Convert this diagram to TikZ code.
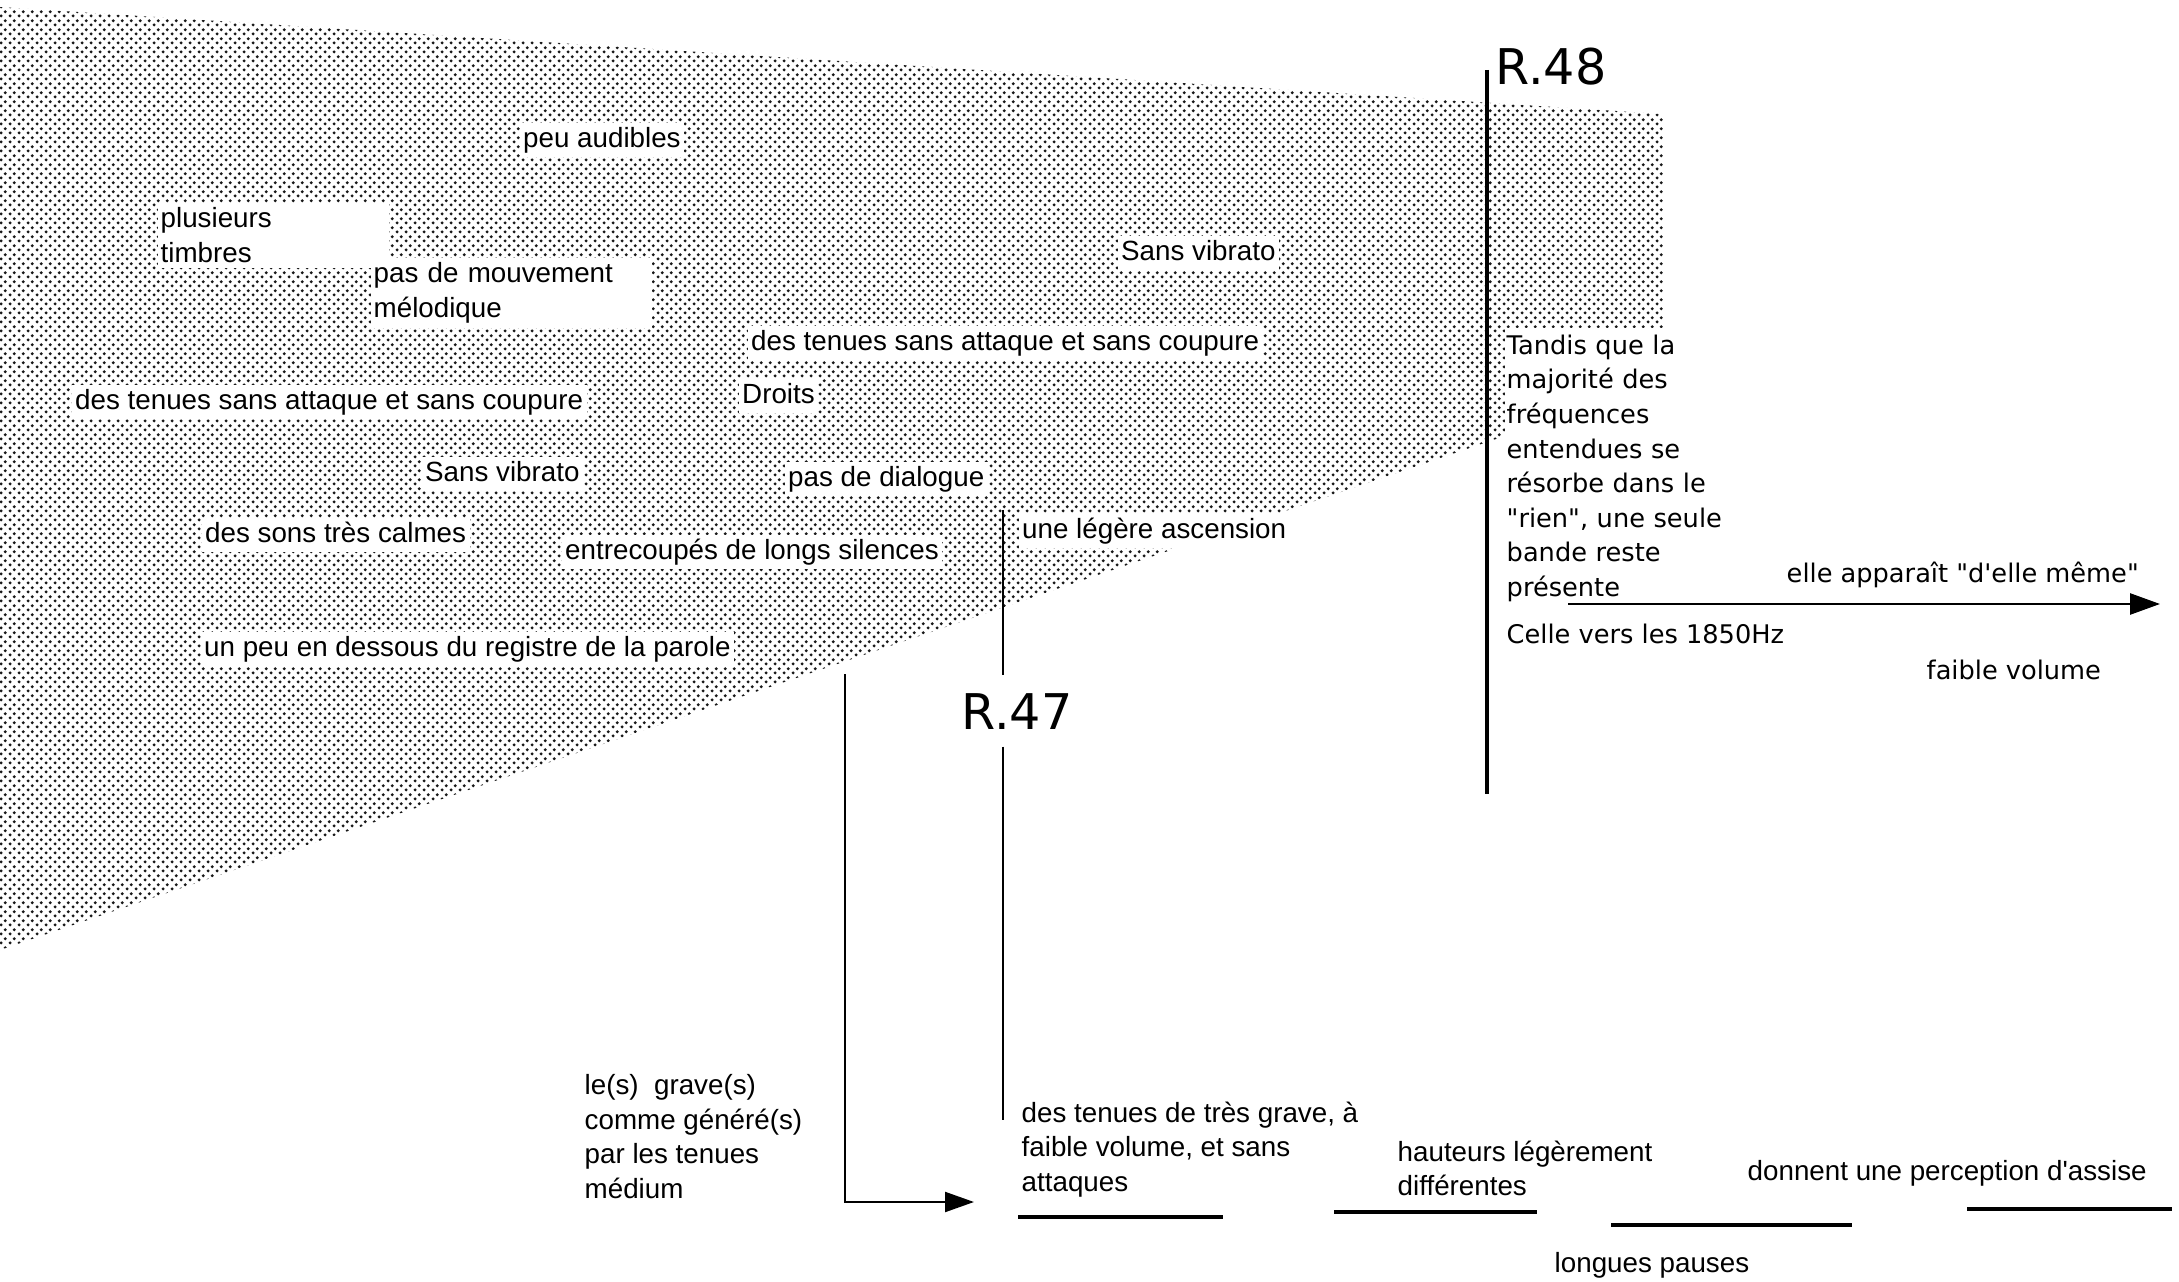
\documentclass[tikz,border=0pt]{standalone}
\usepackage{fontspec}
\setmainfont{Liberation Sans}
\newfontfamily\genevafont{DejaVu Sans}
\usetikzlibrary{patterns,arrows.meta}
\pgfdeclarepatternformonly{stipple}{\pgfpointorigin}{\pgfqpoint{2.6pt}{2.6pt}}{\pgfqpoint{2.6pt}{2.6pt}}{%
  \pgfpathcircle{\pgfqpoint{0.65pt}{0.65pt}}{0.5pt}%
  \pgfpathcircle{\pgfqpoint{1.95pt}{1.95pt}}{0.5pt}%
  \pgfusepath{fill}}

\begin{document}
\begin{tikzpicture}[
    lbl/.style={fill=white, inner sep=1pt, anchor=west, text height=5.9pt, text depth=1.7pt, font=\fontsize{7.9}{9.8}\selectfont},
    boxlbl/.style={fill=white, inner xsep=0.03cm, inner ysep=0.05cm, anchor=north west, align=left, font=\fontsize{7.9}{9.8}\selectfont},
    note/.style={inner sep=0pt, anchor=north west, align=left, font=\fontsize{7.9}{9.8}\selectfont},
    gnote/.style={inner sep=0pt, anchor=base west, font=\genevafont\fontsize{7.3}{9.85}\selectfont},
    rlabel/.style={inner xsep=0pt, inner ysep=0.17cm, anchor=base west, font=\genevafont\fontsize{14}{16}\selectfont},
    leader/.style={line width=0.6pt},
    bar/.style={line width=1.4pt},
    arr/.style={-{Triangle[length=0.29cm,width=0.2cm]}}
  ]
			%%%%% START %%%%%
			\useasboundingbox (0,0) rectangle (21.79,-12.82);
			
			% the band
			\fill[pattern=stipple, pattern color=black!90] (0,-0.07) -- (16.63,-1.14) -- (16.63,-3.82) -- (0,-9.50) -- cycle;
			
			\node[lbl] (audibles) at (5.19,-1.40) {peu audibles};
			\node[boxlbl, text width=2.25cm] (timbres) at (1.57,-2.02) {plusieurs\\timbres};
			\node[boxlbl, text width=2.75cm] (melodique) at (3.70,-2.57) {pas de mouvement\\mélodique};
			\node[lbl] (vibratoB) at (11.17,-2.53) {Sans vibrato};
			\node[lbl] (tenuesB) at (7.47,-3.43) {des tenues sans attaque et sans coupure};
			\node[lbl] (droits) at (7.38,-3.96) {Droits};
			\node[lbl] (tenuesA) at (0.71,-4.02) {des tenues sans attaque et sans coupure};
			\node[lbl] (vibratoA) at (4.21,-4.74) {Sans vibrato};
			\node[lbl] (dialogue) at (7.84,-4.79) {pas de dialogue};
			\node[lbl] (calmes) at (2.01,-5.35) {des sons très calmes};
			\node[lbl] (silences) at (5.61,-5.52) {entrecoupés de longs silences};
			\node[lbl] (ascension) at (10.18,-5.31) {une légère ascension};
			\node[lbl] (parole) at (2.00,-6.49) {un peu en dessous du registre de la parole};
			
			% R.47
			\node[rlabel] (r47) at (9.61,-7.29) {R.47};
			\coordinate (r47top) at (10.03,-5.10);
			\coordinate (r47bot) at (10.03,-11.20);
			\draw[leader] (r47top) -- (r47top |- r47.north);
			\draw[leader] (r47top |- r47.south) -- (r47bot);
			
			\coordinate (gravetop) at (8.45,-6.74);
			\coordinate (gravetip) at (9.74,-12.02);
			\draw[leader, arr] (gravetop) |- (gravetip);
			
			% R.48
			\node[rlabel, inner ysep=0pt] (r48) at (14.95,-0.85) {R.48};
			\coordinate (r48top) at (14.87,-0.70);
			\coordinate (r48bot) at (14.87,-7.94);
			\draw[line width=1.4pt] (r48top) -- (r48bot);
			
			\node[fill=white, inner xsep=0.02cm, inner ysep=0.07cm, anchor=north west, align=left, text width=2.4cm,
			      font=\genevafont\fontsize{7.3}{9.85}\selectfont] (tandis) at (15.04,-3.27)
			      {Tandis que la\\majorité des\\fréquences\\entendues se\\résorbe dans le\\"rien", une seule\\bande reste\\présente};
			\node[gnote] (meme) at (17.86,-5.82) {elle apparaît "d'elle même"};
			\coordinate (bandstart) at (15.68,-6.04);
			\coordinate (bandend) at (21.60,-6.04);
			\draw[line width=0.75pt, -{Triangle[length=0.3cm,width=0.21cm]}] (bandstart) -- (bandend);
			\node[gnote] (celle) at (15.06,-6.43) {Celle vers les 1850Hz};
			\node[gnote] (faible) at (19.26,-6.80) {faible volume};
			
			% bottom
			\node[note] (graves) at (5.84,-10.74) {le(s)\ \ grave(s)\\comme généré(s)\\par les tenues\\médium};
			\node[note] (tresgrave) at (10.21,-11.01) {des tenues de très grave, à\\faible volume, et sans\\attaques};
			\node[note] (hauteurs) at (13.97,-11.40) {hauteurs légèrement\\différentes};
			\node[note, anchor=base west] (assise) at (17.47,-11.80) {donnent une perception d\textquotesingle assise};
			\node[note, anchor=base west] (pauses) at (15.54,-12.72) {longues pauses};
			
			\draw[bar] (10.18,-12.17) -- (12.23,-12.17);
			\draw[bar] (13.34,-12.12) -- (15.37,-12.12);
			\draw[bar] (16.11,-12.25) -- (18.52,-12.25);
			\draw[bar] (19.67,-12.09) -- (21.72,-12.09);
			%%%%% END %%%%%
\end{tikzpicture}
\end{document}
